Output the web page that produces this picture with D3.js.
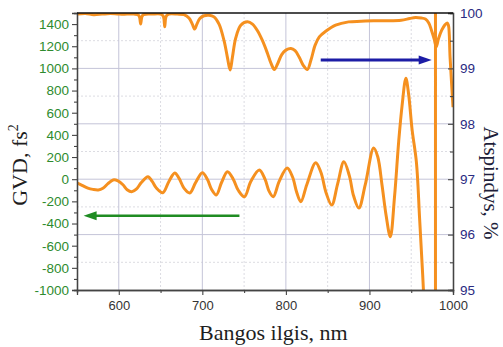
<!DOCTYPE html>
<html>
<head>
<meta charset="utf-8">
<script src="https://cdn.jsdelivr.net/npm/d3@7"></script>
<style>
  html, body { margin: 0; padding: 0; background: #fff; }
  svg { display: block; }
  .tick text { font-family: "Liberation Sans", Arial, sans-serif; }
</style>
</head>
<body>
<svg id="chart" width="503" height="347"></svg>
<script>
// Group velocity dispersion (left axis), fs^2, versus wavelength, nm
const gvdNm = [550.4, 556, 563, 569, 575.4, 581, 587, 593.2, 599, 605, 610, 615.5, 621, 627, 634.9, 640, 645, 652.7,
  660, 667, 672, 678, 684.9, 692, 700, 706, 711, 716.7, 723, 730.1, 737, 743, 750.4, 758, 768.2, 775, 780, 784.9,
  792, 801.5, 808, 813, 817.9, 825, 835.7, 842, 848, 854.8, 862, 869.4, 876, 881, 887.3, 895, 905.1, 910, 915, 920,
  925, 930, 935, 939, 943.6, 947, 951, 956.3, 960, 964.6, 968, 972, 976, 979.7, 979.8, 990, 1000];
const gvdVal = [-34, -55, -80, -92, -97, -82, -40, -7, -15, -50, -95, -113, -90, -30, 23, -20, -80, -122,
  -20, 56, 10, -80, -124, -30, 59, 0, -90, -142, -30, 68, 0, -100, -158, -20, 83, 0, -110, -158,
  -20, 101, 20, -120, -203, -50, 149, 60, -120, -233, -40, 158, 30, -150, -260, -50, 282, 200, -50, -330,
  -519, -160, 340, 660, 911, 760, 450, 146, -350, -1000, -1700, -3000, -6000, -80000, 80000, 8000, 5000];

// Reflectance (right axis), %, versus wavelength, nm
const refNm = [550, 560, 570, 580, 590, 600, 610, 618, 623, 624.8, 626.2, 627.6, 629.5, 640, 650, 653, 654, 655, 656,
  657, 660, 670, 678, 684, 688, 690.8, 693.5, 697, 702, 708, 714, 720, 726, 730, 733.3, 736, 740, 746, 754, 760, 766,
  772, 778, 782, 786.2, 790, 795, 800, 806, 811, 816, 821, 825.7, 830, 835, 840, 847.6, 859.5, 875, 890, 905, 920,
  938, 948, 955, 962, 967, 971, 974.2, 977.5, 980, 982.5, 986.5, 990, 993, 994.5, 996.5, 1000];
const refVal = [99.98, 99.99, 99.97, 99.98, 99.99, 99.98, 99.98, 99.98, 99.97, 99.93, 99.80, 99.93, 99.97, 99.98, 99.98,
  99.95, 99.90, 99.75, 99.90, 99.95, 99.98, 99.98, 99.97, 99.91, 99.80, 99.71, 99.80, 99.90, 99.95, 99.96, 99.93, 99.80,
  99.50, 99.20, 98.97, 99.20, 99.55, 99.78, 99.84, 99.80, 99.68, 99.50, 99.27, 99.10, 98.98, 99.08, 99.25, 99.33, 99.36,
  99.32, 99.20, 99.05, 98.98, 99.15, 99.42, 99.57, 99.67, 99.78, 99.84, 99.85, 99.86, 99.86, 99.87, 99.90, 99.92, 99.91,
  99.89, 99.82, 99.69, 99.53, 99.39, 99.53, 99.69, 99.78, 99.82, 99.78, 99.20, 98.30];

// Axis ticks
const xTicks = [600, 700, 800, 900, 1000];
const gvdTicks = [-1000, -800, -600, -400, -200, 0, 200, 400, 600, 800, 1000, 1200, 1400];
const refTicks = [95, 96, 97, 98, 99, 100];

// Direction arrows: [x0, x1] in nm, y on the matching axis
const refArrowNm = [841.7, 974.5];
const refArrowY = 99.15;
const gvdArrowNm = [744.4, 557.9];
const gvdArrowY = -330;

const W = 503, H = 347;
const m = { left: 77, right: 50, top: 13, bottom: 57 };
const pw = W - m.left - m.right, ph = H - m.top - m.bottom;

const orange = "#f5901f";
const green = "#2e8b2e";
const navy = "#2b2b82";

const svg = d3.select("#chart");
const g = svg.append("g").attr("transform", `translate(${m.left},${m.top})`);

const x = d3.scaleLinear().domain([550, 1000]).range([0, pw]);
const yL = d3.scaleLinear().domain([-1000, 1500]).range([ph, 0]);
const yR = d3.scaleLinear().domain([95, 100]).range([ph, 0]);

// Plain hyphen for negative numbers
const fmt = d => String(d);

// Grid: solid at major, dotted at half steps
const majorX = [600, 700, 800, 900], minorX = [650, 750, 850, 950];
const majorY = [96, 97, 98, 99], minorY = [95.5, 96.5, 97.5, 98.5, 99.5];
g.selectAll(".gxm").data(minorX).join("line")
  .attr("x1", d => x(d)).attr("x2", d => x(d)).attr("y1", 0).attr("y2", ph)
  .attr("stroke", "#dcdce2").attr("stroke-width", 1).attr("stroke-dasharray", "2,2");
g.selectAll(".gym").data(minorY).join("line")
  .attr("x1", 0).attr("x2", pw).attr("y1", d => yR(d)).attr("y2", d => yR(d))
  .attr("stroke", "#dcdce2").attr("stroke-width", 1).attr("stroke-dasharray", "2,2");
g.selectAll(".gxM").data(majorX).join("line")
  .attr("x1", d => x(d)).attr("x2", d => x(d)).attr("y1", 0).attr("y2", ph)
  .attr("stroke", "#c4c4d8").attr("stroke-width", 1);
g.selectAll(".gyM").data(majorY).join("line")
  .attr("x1", 0).attr("x2", pw).attr("y1", d => yR(d)).attr("y2", d => yR(d))
  .attr("stroke", "#c4c4d8").attr("stroke-width", 1);

// Clip curves to the plot area
svg.append("defs").append("clipPath").attr("id", "plot-clip")
  .append("rect").attr("x", 0).attr("y", 0).attr("width", pw).attr("height", ph);

const plot = g.append("g").attr("clip-path", "url(#plot-clip)");

const refData = refNm.map((n, i) => [n, refVal[i]]);
const gvdData = gvdNm.map((n, i) => [n, gvdVal[i]]);

plot.append("path")
  .attr("d", d3.line().x(d => x(d[0])).y(d => yR(d[1])).curve(d3.curveCatmullRom.alpha(0.5))(refData))
  .attr("fill", "none").attr("stroke", orange).attr("stroke-width", 3).attr("stroke-linejoin", "round");

plot.append("path")
  .attr("d", d3.line().x(d => x(d[0])).y(d => yL(d[1])).curve(d3.curveCatmullRom.alpha(0.5))(gvdData))
  .attr("fill", "none").attr("stroke", orange).attr("stroke-width", 3).attr("stroke-linejoin", "round");

// Arrows
function arrow(x0, x1, y, color, width) {
  const dir = Math.sign(x1 - x0);
  const head = 13, half = 4.5;
  g.append("line").attr("x1", x0).attr("x2", x1 - dir * head * 0.8).attr("y1", y).attr("y2", y)
    .attr("stroke", color).attr("stroke-width", width);
  g.append("path")
    .attr("d", `M${x1},${y} L${x1 - dir * head},${y - half} L${x1 - dir * head},${y + half} Z`)
    .attr("fill", color);
}
arrow(x(refArrowNm[0]), x(refArrowNm[1]), yR(refArrowY), "#1c1ca6", 3);
arrow(x(gvdArrowNm[0]), x(gvdArrowNm[1]), yL(gvdArrowY), "#1f8c22", 2.5);

// Axes
const axisColor = "#444";
const xAxis = g.append("g").attr("transform", `translate(0,${ph})`)
  .call(d3.axisBottom(x).tickValues(xTicks).tickSize(5).tickPadding(6).tickFormat(fmt));
g.append("g").attr("transform", `translate(0,${ph})`)
  .call(d3.axisBottom(x).tickValues([550, 650, 750, 850, 950]).tickSize(3).tickFormat(""));

const lAxis = g.append("g")
  .call(d3.axisLeft(yL).tickValues(gvdTicks).tickSize(5).tickPadding(3).tickFormat(fmt));
g.append("g")
  .call(d3.axisLeft(yL).tickValues(d3.range(-900, 1500, 200)).tickSize(3).tickFormat(""));

const rAxis = g.append("g").attr("transform", `translate(${pw},0)`)
  .call(d3.axisRight(yR).tickValues(refTicks).tickSize(-5).tickPadding(7).tickFormat(fmt));
g.append("g").attr("transform", `translate(${pw},0)`)
  .call(d3.axisRight(yR).tickValues([95.5, 96.5, 97.5, 98.5, 99.5]).tickSize(-3).tickFormat(""));

g.selectAll(".domain").attr("stroke", axisColor).attr("stroke-width", 1.3);
g.selectAll(".tick line").attr("stroke", axisColor).attr("stroke-width", 1.1);
xAxis.selectAll("text").attr("fill", "#333").attr("font-size", 13);
lAxis.selectAll("text").attr("fill", green).attr("font-size", 13.5);
rAxis.selectAll("text").attr("fill", navy).attr("font-size", 13.5);

// Top frame line
g.append("line").attr("x1", 0).attr("x2", pw).attr("y1", 0).attr("y2", 0)
  .attr("stroke", "#111").attr("stroke-width", 1.3);

// Titles
const serif = "'Liberation Serif', 'Times New Roman', serif";
svg.append("text").attr("x", m.left + x(785)).attr("y", 340)
  .attr("text-anchor", "middle").attr("font-family", serif).attr("font-size", 22).attr("fill", "#1e1e1e")
  .text("Bangos ilgis, nm");

const lt = svg.append("text").attr("transform", "translate(27,165) rotate(-90)")
  .attr("text-anchor", "middle").attr("font-family", serif).attr("font-size", 22).attr("fill", "#1e1e1e");
lt.append("tspan").text("GVD, fs");
lt.append("tspan").attr("font-size", 14).attr("dy", -9).text("2");

svg.append("text").attr("transform", "translate(484,183) rotate(90)")
  .attr("text-anchor", "middle").attr("font-family", serif).attr("font-size", 21).attr("fill", "#1e1e3a")
  .text("Atspindys, %");
</script>
</body>
</html>
